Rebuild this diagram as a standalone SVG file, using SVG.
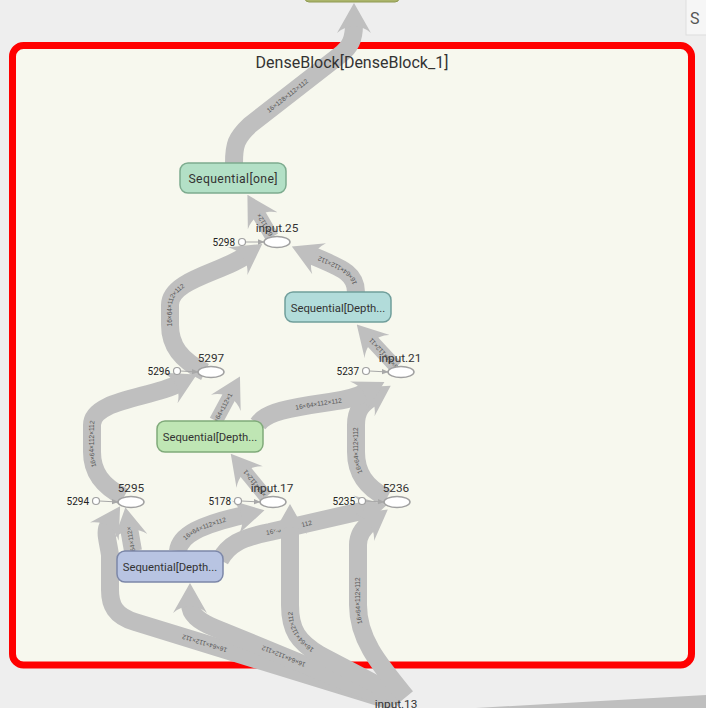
<svg xmlns="http://www.w3.org/2000/svg" width="706" height="708" viewBox="0 0 706 708">
<defs>
<style>
.e{fill:none;stroke:#bfbfbf;stroke-width:18;marker-end:url(#ah)}
.es{fill:none;stroke:#bfbfbf;stroke-width:14;marker-end:url(#ah)}
.el{font-family:"Liberation Sans",Arial,sans-serif;font-size:6.5px;fill:#555}
.tl{fill:none;stroke:#a8a8a8;stroke-width:1;marker-end:url(#sa)}
.nt{font-family:Roboto,"Liberation Sans",Arial,sans-serif;font-size:12.2px;fill:#333;text-anchor:middle}
.nd{font-family:Roboto,"Liberation Sans",Arial,sans-serif;font-size:11.3px;fill:#333;text-anchor:middle}
.lb{font-family:Roboto,"Liberation Sans",Arial,sans-serif;font-size:11.8px;fill:#333;text-anchor:middle}
.sl{font-family:Roboto,"Liberation Sans",Arial,sans-serif;font-size:10px;fill:#222;text-anchor:end}
.ov{fill:#fff;stroke:#a0a0a0;stroke-width:1.5}
.sc{fill:#fff;stroke:#a0a0a0;stroke-width:1.2}
</style>
<marker id="ah" viewBox="0 0 10 10" refX="3" refY="5" markerUnits="userSpaceOnUse" markerWidth="30" markerHeight="34" orient="auto" preserveAspectRatio="none"><path d="M0,0 L10,5 L0,10 C3,7 3,3 0,0 Z" fill="#bfbfbf"/></marker>
<marker id="sa" viewBox="0 0 10 10" refX="9" refY="5" markerUnits="userSpaceOnUse" markerWidth="7" markerHeight="7" orient="auto"><path d="M0,1 L10,5 L0,9 Z" fill="#a8a8a8"/></marker>
</defs>
<rect x="0" y="0" width="706" height="708" fill="#eeeeee"/>
<g id="top-node"><rect x="305" y="-20" width="94" height="22" rx="4" fill="#abb46a" stroke="#8f9a52" stroke-width="1"/></g>
<g id="search-panel"><rect x="686" y="-2" width="24" height="37" fill="#f6f6f6" stroke="#dddddd" stroke-width="1"/><text x="690" y="24" font-family="Roboto,'Liberation Sans',sans-serif" font-size="16" fill="#555">S</text></g>
<g id="cluster-DenseBlock_1">
<rect x="12.5" y="45.5" width="679" height="619.5" rx="11" fill="#f7f8ee" stroke="#ff0000" stroke-width="7"/>
</g>
<g id="connectors">
<path id="e17" class="e" d="M 220 560 C 228 545, 240 538, 270 532 L 366 510"/>
<text class="el" dy="2.2"><textPath href="#e17" startOffset="50%" text-anchor="middle">16×64×112×112</textPath></text>
<path id="e16" class="e" d="M 178 551 C 180 535, 200 525, 244 515"/>
<text class="el" dy="2.2"><textPath href="#e16" startOffset="47%" text-anchor="middle">16×64×112×112</textPath></text>
<path id="e11" class="e" d="M 133 551 L 129 528"/>
<text class="el" dy="2.2"><textPath href="#e11" startOffset="50%" text-anchor="middle">16×64×112×112</textPath></text>
<path id="e12" class="e" d="M 395 702 L 135 622 C 115 616, 110 605, 110 590 L 110 555 C 108 540, 104 532, 109 524"/>
<text class="el" dy="2.2"><textPath href="#e12" startOffset="52%" text-anchor="middle">16×64×112×112</textPath></text>
<path id="e13" class="e" d="M 395 702 L 215 628 C 198 621, 190 614, 190 604"/>
<text class="el" dy="2.2"><textPath href="#e13" startOffset="52%" text-anchor="middle">16×64×112×112</textPath></text>
<path id="e14" class="e" d="M 402 698 L 320 655 C 298 642, 290 630, 290 605 L 290 525"/>
<text class="el" dy="2.2"><textPath href="#e14" startOffset="53%" text-anchor="middle">16×64×112×112</textPath></text>
<path id="e15" class="e" d="M 406 697 C 380 665, 358 640, 358 605 L 358 545 C 358 535, 363 528, 371 522"/>
<text class="el" dy="2.2"><textPath href="#e15" startOffset="57%" text-anchor="middle">16×64×112×112</textPath></text>
<path id="e10" class="es" d="M 266 497 L 244 470"/>
<text class="el" dy="2.2"><textPath href="#e10" startOffset="50%" text-anchor="middle">16×64×112×112</textPath></text>
<path id="e9" class="e" d="M 124 497 C 102 486, 92 472, 92 452 L 92 425 C 92 400, 150 398, 178 384"/>
<text class="el" dy="2.2"><textPath href="#e9" startOffset="36%" text-anchor="middle">16×64×112×112</textPath></text>
<path id="e8" class="e" d="M 387 498 C 365 487, 356 472, 356 452 L 356 425 C 356 410, 362 404, 373 397"/>
<text class="el" dy="2.2"><textPath href="#e8" startOffset="50%" text-anchor="middle">16×64×112×112</textPath></text>
<path id="e7" class="e" d="M 258 424 C 265 414, 280 410, 310 405 L 330 402 C 345 400, 355 398, 366 392"/>
<text class="el" dy="2.2"><textPath href="#e7" startOffset="57%" text-anchor="middle">16×64×112×112</textPath></text>
<path id="e6" class="es" d="M 216 421 L 230 395"/>
<text class="el" dy="2.2"><textPath href="#e6" startOffset="50%" text-anchor="middle">16×64×112×112</textPath></text>
<path id="e5" class="es" d="M 396 367 L 371 340"/>
<text class="el" dy="2.2"><textPath href="#e5" startOffset="50%" text-anchor="middle">16×64×112×112</textPath></text>
<path id="e4" class="e" d="M 356 292 C 356 272, 340 268, 311 255"/>
<text class="el" dy="2.2"><textPath href="#e4" startOffset="50%" text-anchor="middle">16×64×112×112</textPath></text>
<path id="e3" class="e" d="M 205 372 C 180 360, 170 345, 170 325 L 170 305 C 170 280, 222 272, 245 256"/>
<text class="el" dy="2.2"><textPath href="#e3" startOffset="48%" text-anchor="middle">16×64×112×112</textPath></text>
<path id="e2" class="es" d="M 272 237 L 258 213"/>
<text class="el" dy="2.2"><textPath href="#e2" startOffset="50%" text-anchor="middle">16×64×112×112</textPath></text>
<path id="e1" class="e" d="M 234 163 C 234 145, 236 138, 250 125 L 340 55 C 350 47, 354 40, 354 24"/>
<text class="el" dy="2.2"><textPath href="#e1" startOffset="47%" text-anchor="middle">16×128×112×112</textPath></text>
<polygon points="405,712 706,695 706,712" fill="#bfbfbf"/>
<line class="tl" x1="245.5" y1="242" x2="264" y2="242"/>
<line class="tl" x1="180.5" y1="371" x2="198" y2="372"/>
<line class="tl" x1="369.5" y1="371" x2="388" y2="372"/>
<line class="tl" x1="99.5" y1="501" x2="118" y2="502"/>
<line class="tl" x1="241.5" y1="501" x2="260" y2="502"/>
<line class="tl" x1="365.5" y1="501" x2="384" y2="502"/>
</g>
<text x="352" y="68" font-family="Roboto,'Liberation Sans',Arial,sans-serif" font-size="16" fill="#333" text-anchor="middle">DenseBlock[DenseBlock_1]</text>
<g id="Sequential-one"><rect x="180" y="163" width="106" height="30" rx="8" fill="#b3e0c6" stroke="#7dab8e" stroke-width="1.5"/><text class="nt" x="233" y="182.5" textLength="89">Sequential[one]</text></g>
<g id="Sequential-Depth-teal"><rect x="285" y="292" width="106" height="30" rx="8" fill="#b2dcda" stroke="#709e9b" stroke-width="1.5"/><text class="nd" x="338" y="311.5">Sequential[Depth...</text></g>
<g id="Sequential-Depth-green"><rect x="157" y="421" width="106" height="31" rx="8" fill="#bfe6b4" stroke="#80aa7a" stroke-width="1.5"/><text class="nd" x="210" y="441">Sequential[Depth...</text></g>
<g id="Sequential-Depth-blue"><rect x="117" y="551" width="106" height="31" rx="8" fill="#b8c4e2" stroke="#7c87a8" stroke-width="1.5"/><text class="nd" x="170" y="571">Sequential[Depth...</text></g>
<g id="input.25"><ellipse class="ov" cx="277" cy="242" rx="13" ry="5.5"/><text class="lb" x="277" y="232">input.25</text></g>
<g id="n5298"><circle class="sc" cx="242" cy="242" r="3.5"/><text class="sl" x="235" y="245.5">5298</text></g>
<g id="n5297"><ellipse class="ov" cx="211" cy="372" rx="13" ry="5.5"/><text class="lb" x="211" y="362">5297</text></g>
<g id="n5296"><circle class="sc" cx="177" cy="371" r="3.5"/><text class="sl" x="170" y="374.5">5296</text></g>
<g id="input.21"><ellipse class="ov" cx="401" cy="372" rx="13" ry="5.5"/><text class="lb" x="400" y="362">input.21</text></g>
<g id="n5237"><circle class="sc" cx="366" cy="371" r="3.5"/><text class="sl" x="359" y="374.5">5237</text></g>
<g id="n5295"><ellipse class="ov" cx="131" cy="502" rx="13" ry="5.5"/><text class="lb" x="131" y="492">5295</text></g>
<g id="n5294"><circle class="sc" cx="96" cy="501" r="3.5"/><text class="sl" x="89" y="504.5">5294</text></g>
<g id="input.17"><ellipse class="ov" cx="273" cy="502" rx="13" ry="5.5"/><text class="lb" x="272" y="492">input.17</text></g>
<g id="n5178"><circle class="sc" cx="238" cy="501" r="3.5"/><text class="sl" x="231" y="504.5">5178</text></g>
<g id="n5236"><ellipse class="ov" cx="397" cy="502" rx="13" ry="5.5"/><text class="lb" x="396" y="492">5236</text></g>
<g id="n5235"><circle class="sc" cx="362" cy="501" r="3.5"/><text class="sl" x="355" y="504.5">5235</text></g>
<g id="input.13"><text class="lb" x="396" y="708">input.13</text></g>
</svg>
